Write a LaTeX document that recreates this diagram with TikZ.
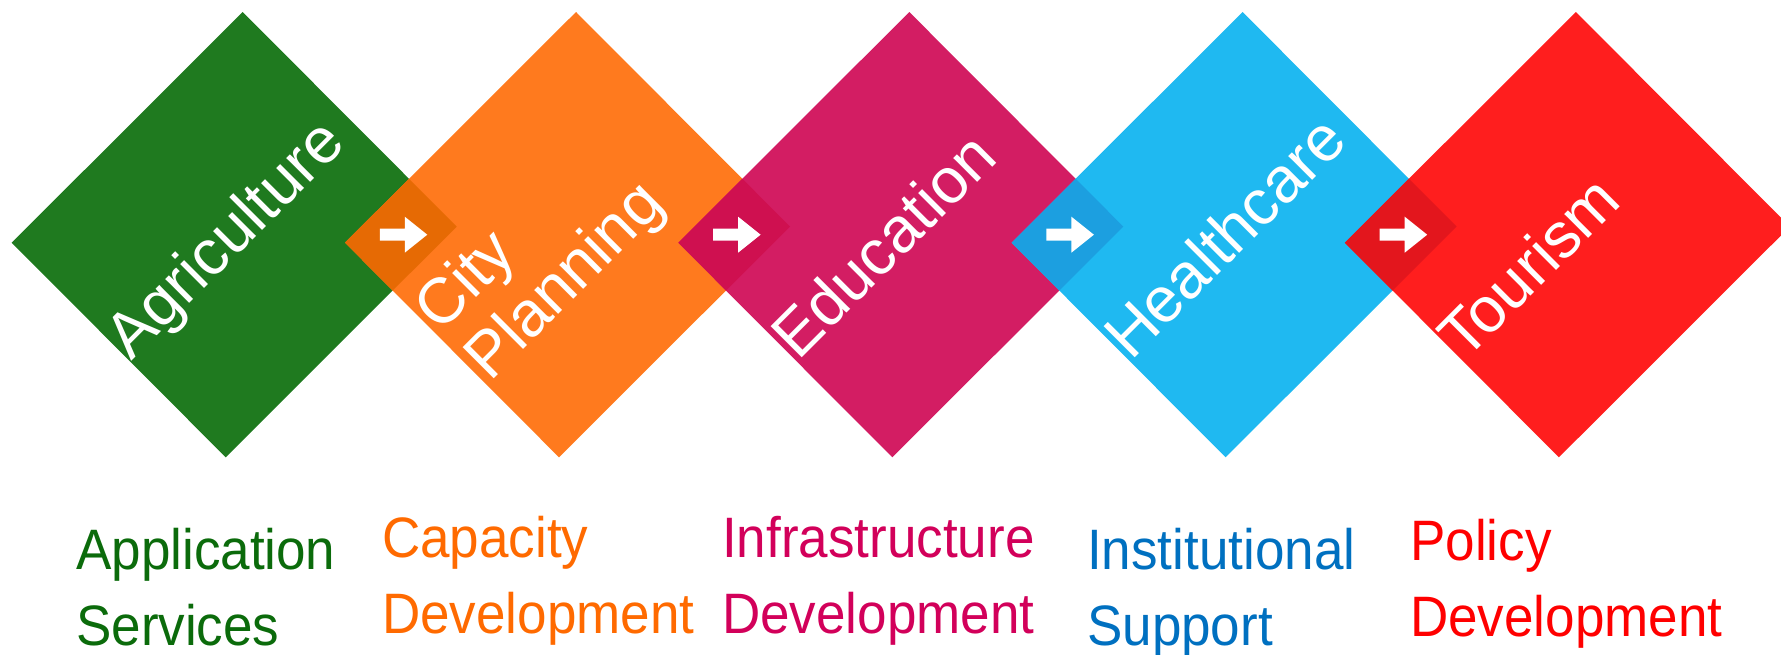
\documentclass[tikz,border=0pt]{standalone}
\usepackage{fontspec}
\setmainfont{Liberation Sans}

\definecolor{agrigreen}{HTML}{1F7A1F}
\definecolor{cityorange}{HTML}{FF7A1E}
\definecolor{educrimson}{HTML}{D31D63}
\definecolor{healthblue}{HTML}{1FB9F1}
\definecolor{tourred}{HTML}{FF1E1E}
% overlap shades
\definecolor{cityshade}{HTML}{E66A04}
\definecolor{edushade}{HTML}{CF1050}
\definecolor{healthshade}{HTML}{1C9FE0}
\definecolor{tourshade}{HTML}{E3161D}
% caption colours
\definecolor{agritext}{HTML}{0B6B0B}
\definecolor{citytext}{HTML}{FF6A00}
\definecolor{edutext}{HTML}{D2005A}
\definecolor{healthtext}{HTML}{0070C0}
\definecolor{tourtext}{HTML}{FF0000}

\tikzset{
    tiletext/.style={text=white,font=\fontsize{64}{70}\selectfont,rotate=45,anchor=base west,inner sep=0pt,align=left},
    captext/.style={font=\fontsize{57}{76}\selectfont,anchor=base west,inner sep=0pt,align=left,xscale=.93},
}
\newcommand{\tile}[1]{(#1,242.7) -- ++(231,-230.7) -- ++(214,214.6) -- ++(-231,230.7) -- cycle}

\begin{document}
\begin{tikzpicture}[x=1pt,y=-1pt]
    \useasboundingbox (0,0) rectangle (1781,654);

    % tiles
    \fill[agrigreen] \tile{11.7};
    \fill[cityorange] \tile{345};
    \fill[educrimson] \tile{678.3};
    \fill[healthblue] \tile{1011.6};
    \fill[tourred] \tile{1344.9};

    % overlaps
    \begin{scope}
        \clip \tile{11.7};
        \fill[cityshade] \tile{345};
    \end{scope}
    \begin{scope}
        \clip \tile{345};
        \fill[edushade] \tile{678.3};
    \end{scope}
    \begin{scope}
        \clip \tile{678.3};
        \fill[healthshade] \tile{1011.6};
    \end{scope}
    \begin{scope}
        \clip \tile{1011.6};
        \fill[tourshade] \tile{1344.9};
    \end{scope}

    % arrows
    \foreach \ax in {400.8,734.1,1067.4,1400.7}
        \fill[white] (\ax-21,228.7) -- ++(25,0) -- ++(0,-12) -- ++(22.5,18) -- ++(-22.5,18) -- ++(0,-12) -- ++(-25,0) -- cycle;

    % tile labels (anchor sits on the last line)
    \node[tiletext] (agri) at (131,362) {Agriculture};
    \node[tiletext] (city) at (490,383) {City\\Planning};
    \node[tiletext] (edu) at (798,362) {Education};
    \node[tiletext] (health) at (1131,362) {Healthcare};
    \node[tiletext] (tour) at (1465,362) {Tourism};

    % captions
    \node[captext,text=agritext] (agricap) at (76,645) {Application\\Services};
    \node[captext,text=citytext] (citycap) at (382,633) {Capacity\\Development};
    \node[captext,text=edutext] (educap) at (722,633) {Infrastructure\\Development};
    \node[captext,text=healthtext] (healthcap) at (1087,645) {Institutional\\Support};
    \node[captext,text=tourtext] (tourcap) at (1410,636) {Policy\\Development};
\end{tikzpicture}
\end{document}
